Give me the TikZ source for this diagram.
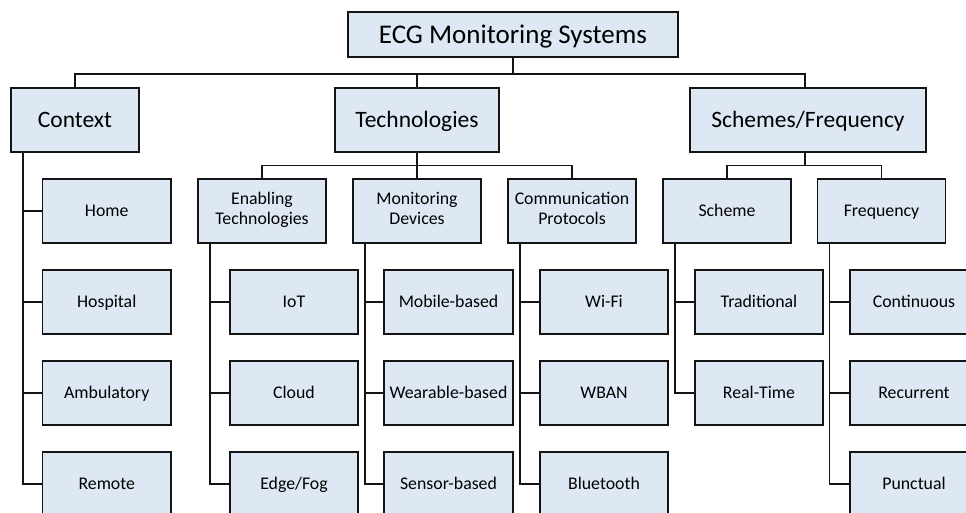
\documentclass[tikz,border=0pt]{standalone}
\usepackage{fontspec}
\setmainfont{Carlito}
\definecolor{boxfill}{RGB}{222,232,245}
\definecolor{boxline}{RGB}{20,20,20}
% struts that centre the capitals of the first and last text line
\newcommand\topstrut{\rule{0pt}{0.944em}}
\newcommand\botstrut{\rule[-0.3em]{0pt}{0.3em}}
\tikzset{
  x=1pt, y=-1pt,
  box/.style={draw=boxline, line width=1.6pt, fill=boxfill, inner sep=0pt,
              align=center, text=black,
              execute at begin node=\topstrut, execute at end node=\botstrut},
  rootbox/.style={box, minimum width=330pt, minimum height=45pt, font=\fontsize{27}{31}\selectfont},
  topbox/.style={box, minimum height=64pt, font=\fontsize{23.5}{27}\selectfont},
  midbox/.style={box, minimum width=128pt, minimum height=64pt, font=\fontsize{17.8}{20}\selectfont},
  leafbox/.style={box, minimum width=128.5pt, minimum height=64pt, font=\fontsize{17.8}{20}\selectfont},
  wire/.style={draw=boxline, line width=1.6pt},
}
\begin{document}
\begin{tikzpicture}
\useasboundingbox (0,0) rectangle (966,513);
\clip (0,0) rectangle (966,513);
\fill[white] (0,0) rectangle (966,513);

% root and first level
\node[rootbox] (root) at (513,34.5) {ECG Monitoring Systems};
\node[topbox, minimum width=128pt] (ctx)  at (75,120)  {Context};
\node[topbox, minimum width=164pt] (tech) at (417,120) {Technologies};
\node[topbox, minimum width=236pt] (sf)   at (808,120) {Schemes/Frequency};

% second level
\node[midbox] (enab) at (262,211)   {Enabling\\Technologies};
\node[midbox] (mon)  at (417,211)   {Monitoring\\Devices};
\node[midbox] (comm) at (572,211)   {Communication\\Protocols};
\node[midbox] (sch)  at (727,211)   {Scheme};
\node[midbox] (freq) at (881.5,211) {Frequency};

% context leaves
\node[leafbox] (home) at (106.75,211) {Home};
\node[leafbox] (hosp) at (106.75,302) {Hospital};
\node[leafbox] (amb)  at (106.75,393) {Ambulatory};
\node[leafbox] (rem)  at (106.75,484) {Remote};

% enabling technologies leaves
\node[leafbox] (iot)   at (294,302) {IoT};
\node[leafbox] (cloud) at (294,393) {Cloud};
\node[leafbox] (edge)  at (294,484) {Edge/Fog};

% monitoring device leaves
\node[leafbox] (mob)  at (448.5,302) {Mobile-based};
\node[leafbox] (wear) at (448.5,393) {Wearable-based};
\node[leafbox] (sens) at (448.5,484) {Sensor-based};

% communication protocol leaves
\node[leafbox] (wifi) at (604,302) {Wi-Fi};
\node[leafbox] (wban) at (604,393) {WBAN};
\node[leafbox] (bt)   at (604,484) {Bluetooth};

% scheme leaves
\node[leafbox] (trad) at (759,302) {Traditional};
\node[leafbox] (rt)   at (759,393) {Real-Time};

% frequency leaves
\node[leafbox] (cont) at (914,302) {Continuous};
\node[leafbox] (rec)  at (914,393) {Recurrent};
\node[leafbox] (punc) at (914,484) {Punctual};

% bus from root to first level
\coordinate (busA) at (0,74);
\draw[wire] (root.south) -- (root.south |- busA);
\draw[wire] (ctx.north) -- (ctx.north |- busA) -- ([xshift=-3pt]sf.north |- busA) -- ([xshift=-3pt]sf.north);
\draw[wire] (tech.north) -- (tech.north |- busA);

% buses from first to second level
\coordinate (busB) at (0,165.7);
\draw[wire] (tech.south) -- (tech.south |- busB);
\draw[wire] (enab.north) -- (enab.north |- busB) -- (comm.north |- busB) -- (comm.north);
\draw[wire] (mon.north) -- (mon.north |- busB);
\draw[wire] ([xshift=-3pt]sf.south) -- ([xshift=-3pt]sf.south |- busB);
\draw[wire] (sch.north) -- (sch.north |- busB) -- (freq.north |- busB) -- (freq.north);

% side rails down to the leaves
\foreach \p/\kids in {ctx/{home,hosp,amb,rem}, enab/{iot,cloud,edge},
                      mon/{mob,wear,sens}, comm/{wifi,wban,bt},
                      sch/{trad,rt}, freq/{cont,rec,punc}}{
  \foreach \k in \kids {
    \draw[wire] ([xshift=12.7pt]\p.south west) |- (\k.west);
  }
}
\end{tikzpicture}
\end{document}
